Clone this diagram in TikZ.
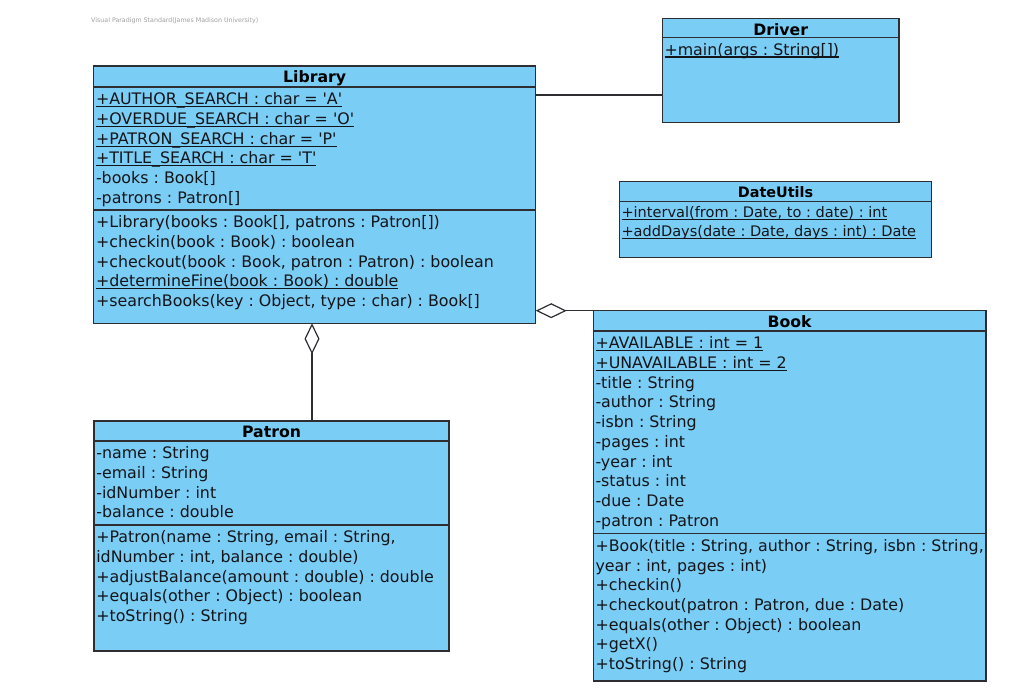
\documentclass[tikz,border=0pt]{standalone}
\usepackage{fontspec}
\setmainfont{DejaVu Sans}[Ligatures=TeXOff]
\usetikzlibrary{arrows.meta}
\definecolor{clsfill}{RGB}{122,206,245}
\definecolor{clsline}{RGB}{45,45,50}
\definecolor{txtcol}{RGB}{20,20,25}
\definecolor{wmcol}{RGB}{160,160,160}
\newcommand\statm[1]{\setbox0\hbox{#1}\rlap{\rule[-2.4pt]{\wd0}{1.05pt}}\box0}
\frenchspacing
\begin{document}
\begin{tikzpicture}[x=1pt,y=-1pt,
  cls/.style={draw=clsline, fill=clsfill, line width=1.3pt, inner sep=0pt, outer sep=0pt, anchor=north west},
  mem/.style={anchor=base west, inner sep=0pt, outer sep=0pt, text=txtcol, font=\fontsize{15.85}{19.7}\selectfont},
  smem/.style={mem, font=\fontsize{14.55}{18}\selectfont},
  ttl/.style={anchor=base, inner sep=0pt, outer sep=0pt, text=black, font=\bfseries\fontsize{15.7}{19.7}\selectfont},
  sttl/.style={ttl, font=\bfseries\fontsize{14.4}{18}\selectfont},
  sepline/.style={draw=clsline, line width=1.3pt},
  conn/.style={draw=clsline, line width=1.2pt},
  aggr/.style={conn, {Diamond[open, fill=white, length=31pt, width=15pt]}-}]
\useasboundingbox (0,0) rectangle (1017,699);
\fill[white] (0,0) rectangle (1017,699);

\node[anchor=base west, inner sep=0pt, text=wmcol, font=\fontsize{6.3}{7}\selectfont] (wm) at (91,22.5) {Visual Paradigm Standard(James Madison University)};

% ---------- Library ----------
\node[cls, minimum width=442pt, minimum height=257.3pt] (library) at (93.7,66) {};
\draw[sepline] (library.west |- 0,87) -- (library.east |- 0,87);
\draw[sepline] (library.west |- 0,210) -- (library.east |- 0,210);
\node[ttl] (lib-t) at (library.north |- 0,82.7) {Library};
\node[mem] (lib-a1) at (96,104.8) {\statm{+AUTHOR\_SEARCH : char = 'A'}};
\node[mem] (lib-a2) at (96,124.5) {\statm{+OVERDUE\_SEARCH : char = 'O'}};
\node[mem] (lib-a3) at (96,144.2) {\statm{+PATRON\_SEARCH : char = 'P'}};
\node[mem] (lib-a4) at (96,163.9) {\statm{+TITLE\_SEARCH : char = 'T'}};
\node[mem] (lib-a5) at (96,183.6) {-books : Book[]};
\node[mem] (lib-a6) at (96,203.3) {-patrons : Patron[]};
\node[mem] (lib-m1) at (96,227.8) {+Library(books : Book[], patrons : Patron[])};
\node[mem] (lib-m2) at (96,247.5) {+checkin(book : Book) : boolean};
\node[mem] (lib-m3) at (96,267.2) {+checkout(book : Book, patron : Patron) : boolean};
\node[mem] (lib-m4) at (96,286.9) {\statm{+determineFine(book : Book) : double}};
\node[mem] (lib-m5) at (96,306.6) {+searchBooks(key : Object, type : char) : Book[]};

% ---------- Driver ----------
\node[cls, minimum width=236.7pt, minimum height=104.4pt] (driver) at (662.3,18.3) {};
\draw[sepline] (driver.west |- 0,37.3) -- (driver.east |- 0,37.3);
\node[ttl] (drv-t) at (driver.north |- 0,35) {Driver};
\node[mem] (drv-m1) at (664.5,55.1) {\statm{+main(args : String[])}};

% ---------- DateUtils ----------
\node[cls, minimum width=312.4pt, minimum height=76pt] (dateutils) at (619.3,181.7) {};
\draw[sepline] (dateutils.west |- 0,201.7) -- (dateutils.east |- 0,201.7);
\node[sttl] (du-t) at (dateutils.north |- 0,197) {DateUtils};
\node[smem] (du-m1) at (621.5,217.2) {\statm{+interval(from : Date, to : date) : int}};
\node[smem] (du-m2) at (621.5,236.2) {\statm{+addDays(date : Date, days : int) : Date}};

% ---------- Book ----------
\node[cls, minimum width=392.7pt, minimum height=370.3pt] (book) at (593.3,310.7) {};
\draw[sepline] (book.west |- 0,331) -- (book.east |- 0,331);
\draw[sepline] (book.west |- 0,533.5) -- (book.east |- 0,533.5);
\node[ttl] (bk-t) at (book.north |- 0,327.4) {Book};
\node[mem] (bk-a1) at (595.5,348.8) {\statm{+AVAILABLE : int = 1}};
\node[mem] (bk-a2) at (595.5,368.5) {\statm{+UNAVAILABLE : int = 2}};
\node[mem] (bk-a3) at (595.5,388.2) {-title : String};
\node[mem] (bk-a4) at (595.5,407.9) {-author : String};
\node[mem] (bk-a5) at (595.5,427.6) {-isbn : String};
\node[mem] (bk-a6) at (595.5,447.3) {-pages : int};
\node[mem] (bk-a7) at (595.5,467.0) {-year : int};
\node[mem] (bk-a8) at (595.5,486.7) {-status : int};
\node[mem] (bk-a9) at (595.5,506.4) {-due : Date};
\node[mem] (bk-a10) at (595.5,526.1) {-patron : Patron};
\node[mem] (bk-m1) at (595.5,551.3) {+Book(title : String, author : String, isbn : String,};
\node[mem] (bk-m2) at (595.5,571.0) {year : int, pages : int)};
\node[mem] (bk-m3) at (595.5,590.7) {+checkin()};
\node[mem] (bk-m4) at (595.5,610.4) {+checkout(patron : Patron, due : Date)};
\node[mem] (bk-m5) at (595.5,630.1) {+equals(other : Object) : boolean};
\node[mem] (bk-m6) at (595.5,649.8) {+getX()};
\node[mem] (bk-m7) at (595.5,669.5) {+toString() : String};

% ---------- Patron ----------
\node[cls, minimum width=355pt, minimum height=230pt] (patron) at (94,421) {};
\draw[sepline] (patron.west |- 0,441) -- (patron.east |- 0,441);
\draw[sepline] (patron.west |- 0,525) -- (patron.east |- 0,525);
\node[ttl] (pt-t) at (patron.north |- 0,437.7) {Patron};
\node[mem] (pt-a1) at (96.3,458.8) {-name : String};
\node[mem] (pt-a2) at (96.3,478.5) {-email : String};
\node[mem] (pt-a3) at (96.3,498.2) {-idNumber : int};
\node[mem] (pt-a4) at (96.3,517.9) {-balance : double};
\node[mem] (pt-m1) at (96.3,542.8) {+Patron(name : String, email : String,};
\node[mem] (pt-m2) at (96.3,562.5) {idNumber : int, balance : double)};
\node[mem] (pt-m3) at (96.3,582.2) {+adjustBalance(amount : double) : double};
\node[mem] (pt-m4) at (96.3,601.9) {+equals(other : Object) : boolean};
\node[mem] (pt-m5) at (96.3,621.6) {+toString() : String};

% ---------- Connectors ----------
\draw[conn] (library.east |- 0,95) -- (driver.west |- 0,95);
\draw[aggr] (library.east |- book.north west) -- (book.north west);
\draw[aggr] (library.south -| 312,0) -- (patron.north -| 312,0);
\end{tikzpicture}
\end{document}
